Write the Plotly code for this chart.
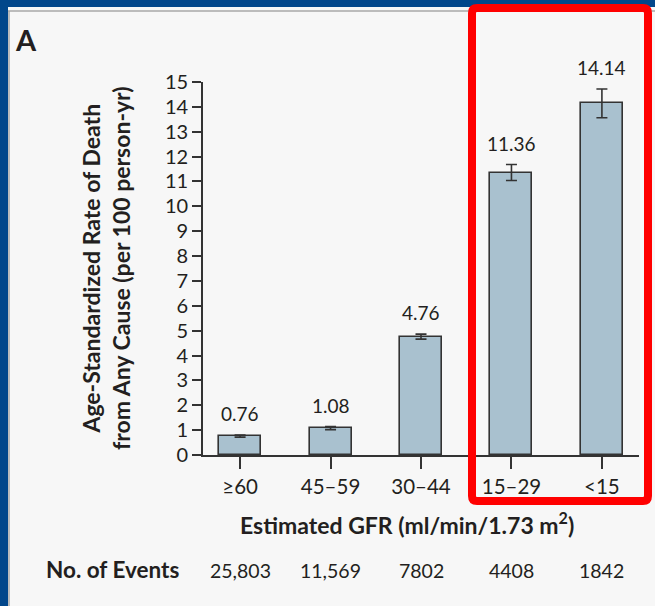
import plotly.graph_objects as go

# ---- data ----
categories = ["≥60", "45–59", "30–44", "15–29", "<15"]
rates = [0.76, 1.08, 4.76, 11.36, 14.14]
rate_err = [0.04, 0.06, 0.10, 0.32, 0.58]
rate_labels = ["0.76", "1.08", "4.76", "11.36", "14.14"]
events = ["25,803", "11,569", "7802", "4408", "1842"]
y_ticks = list(range(0, 16))

# ---- geometry (pixels) ----
WIDTH, HEIGHT = 655, 606
L, R, T, B = 203, 639, 82, 455
PW, PH = R - L, B - T


def px(x):
    return (x - L) / PW


def py(y):
    return (B - y) / PH


FONT = "Lato"
TXT = "#231f20"
BLUE = "#02478b"
BAR = "#a9c1cf"

xpos = list(range(len(categories)))

fig = go.Figure()
fig.add_trace(go.Bar(
    x=xpos, y=rates, width=0.465,
    marker=dict(color=BAR, line=dict(color="#333333", width=1.6)),
    error_y=dict(type="data", array=rate_err, visible=True,
                 color="#333333", thickness=1.6, width=5.5),
    hoverinfo="skip", showlegend=False,
))

annotations = []
# value labels
for i, (v, e, lab) in enumerate(zip(rates, rate_err, rate_labels)):
    annotations.append(dict(x=i, y=v + e, xref="x", yref="y", text=lab,
                            showarrow=False, yanchor="bottom", yshift=8,
                            font=dict(family=FONT, size=19, color=TXT)))
# events row
for i, ev in enumerate(events):
    annotations.append(dict(x=i, y=py(570), xref="x", yref="paper", text=ev,
                            showarrow=False, yanchor="middle",
                            font=dict(family=FONT, size=19.5, color=TXT)))
annotations.append(dict(x=px(44), y=py(569), xref="paper", yref="paper",
                        text="<b>No. of Events</b>", showarrow=False,
                        xanchor="left", yanchor="middle",
                        font=dict(family=FONT, size=22.5, color=TXT)))
# x title
annotations.append(dict(x=px(407), y=py(523), xref="paper", yref="paper",
                        text="<b>Estimated GFR (ml/min/1.73 m<sup>2</sup>)</b>",
                        showarrow=False, xanchor="center", yanchor="middle",
                        font=dict(family=FONT, size=23, color=TXT)))
# y title
annotations.append(dict(x=px(106), y=py(268), xref="paper", yref="paper",
                        text="<b>Age-Standardized Rate of Death<br>from Any Cause (per 100 person-yr)</b>",
                        textangle=-90, showarrow=False,
                        xanchor="center", yanchor="middle",
                        font=dict(family=FONT, size=23, color=TXT)))
# panel letter
annotations.append(dict(x=px(26), y=py(40), xref="paper", yref="paper",
                        text="<b>A</b>", showarrow=False,
                        xanchor="center", yanchor="middle",
                        font=dict(family=FONT, size=29, color=TXT)))


def rounded_rect(x0, y0, x1, y1, r):
    X0, X1 = px(x0), px(x1)
    Y0, Y1 = py(y0), py(y1)
    rx, ry = r / PW, r / PH
    return (f"M {X0+rx} {Y0} L {X1-rx} {Y0} Q {X1} {Y0} {X1} {Y0-ry} "
            f"L {X1} {Y1+ry} Q {X1} {Y1} {X1-rx} {Y1} "
            f"L {X0+rx} {Y1} Q {X0} {Y1} {X0} {Y1+ry} "
            f"L {X0} {Y0-ry} Q {X0} {Y0} {X0+rx} {Y0} Z")


shapes = [
    dict(type="rect", xref="paper", yref="paper", x0=px(0), x1=px(WIDTH),
         y0=py(0), y1=py(7), fillcolor=BLUE, line=dict(width=0)),
    dict(type="rect", xref="paper", yref="paper", x0=px(0), x1=px(8),
         y0=py(0), y1=py(HEIGHT), fillcolor=BLUE, line=dict(width=0)),
    dict(type="line", xref="paper", yref="paper", x0=px(8), x1=px(WIDTH),
         y0=py(11), y1=py(11), line=dict(color="#a8a8a8", width=1.5)),
    dict(type="line", xref="paper", yref="paper", x0=px(9), x1=px(9),
         y0=py(11), y1=py(HEIGHT), line=dict(color="#a8a8a8", width=1.5)),
    dict(type="path", xref="paper", yref="paper",
         path=rounded_rect(472, 8, 648, 501, 5),
         line=dict(color="#ff0000", width=8)),
]

fig.update_layout(
    width=WIDTH, height=HEIGHT,
    margin=dict(l=L, r=WIDTH - R, t=T, b=HEIGHT - B, pad=0),
    paper_bgcolor="#f7f7f7", plot_bgcolor="#f7f7f7",
    bargap=0,
    xaxis=dict(range=[-0.41, 4.41], tickmode="array", tickvals=xpos,
               ticktext=categories, ticks="outside", ticklen=12,
               tickwidth=1.6, tickcolor="#333333", showline=True,
               linecolor="#333333", linewidth=1.8, showgrid=False,
               zeroline=False, fixedrange=True,
               tickfont=dict(family=FONT, size=20.5, color=TXT)),
    yaxis=dict(range=[0, 15], tickmode="array", tickvals=y_ticks,
               ticks="outside", ticklen=9, tickwidth=1.6,
               tickcolor="#333333", showline=True, linecolor="#333333",
               linewidth=1.8, showgrid=False, zeroline=False,
               fixedrange=True,
               tickfont=dict(family=FONT, size=20, color=TXT)),
    annotations=annotations,
    shapes=shapes,
)

fig.write_html("out.html")
